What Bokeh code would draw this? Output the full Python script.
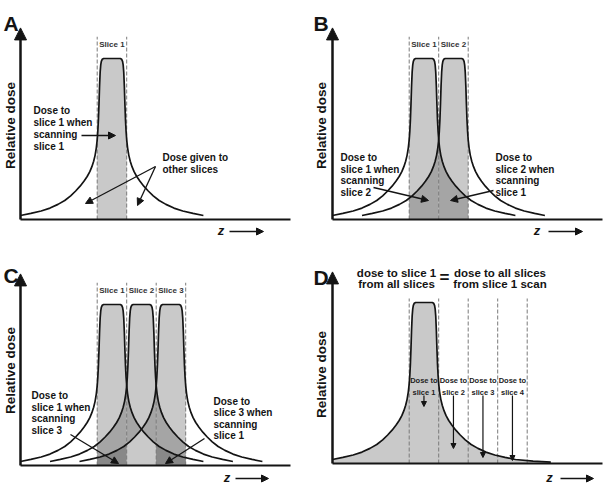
import numpy as np
from bokeh.plotting import figure
from bokeh.layouts import column, row
from bokeh.models import Range1d, Arrow, NormalHead
from bokeh.core.properties import value
from bokeh.embed import file_html
from bokeh.resources import INLINE

# Dose profile of one scanned slice, right half (offset from slice centre in
# slice widths -> relative dose); the left half is its mirror image.
profile_offset = [0.00, 0.28, 0.33, 0.36, 0.38, 0.40, 0.42, 0.44, 0.46, 0.48,
                  0.50, 0.53, 0.57, 0.62, 0.68, 0.75, 0.84, 0.95, 1.08, 1.23,
                  1.40, 1.60, 1.83, 2.10, 2.40, 2.75, 3.10]
profile_dose = [1.000, 1.000, 0.995, 0.982, 0.960, 0.915, 0.830, 0.715, 0.615, 0.545,
                0.495, 0.445, 0.400, 0.362, 0.328, 0.297, 0.267, 0.237, 0.207, 0.177,
                0.147, 0.118, 0.094, 0.071, 0.053, 0.038, 0.025]
# longer right-hand tail of the single profile in panel D
tail_offset = [3.70, 4.30]
tail_dose = [0.015, 0.009]

slice_labels = ["Slice 1", "Slice 2", "Slice 3"]
d_slice_labels = ["slice 1", "slice 2", "slice 3", "slice 4"]

INK = "#141414"
LIGHT = "#c9c9c9"
MED = "#a5a5a5"
DARK = "#888888"
DASH = "#7a7a7a"
FONT = value("Liberation Sans")

SX = 29.5   # pixels per slice width
SY = 161.0  # pixels per unit of relative dose

off = np.array(profile_offset)
dose = np.array(profile_dose)
full_x = np.concatenate([-off[::-1], off[1:]])
full_y = np.concatenate([dose[::-1], dose[1:]])
AXIS_Z = -profile_offset[-1]


def curve_at(c, xs):
    return np.interp(xs, full_x + c, full_y, left=0.0, right=0.0)


def make_panel(W, H, ax, base):
    x0 = AXIS_Z - ax / SX
    y1 = base / SY
    p = figure(width=W, height=H, x_range=Range1d(x0, x0 + W / SX),
               y_range=Range1d(y1 - H / SY, y1), output_backend="svg",
               toolbar_location=None, min_border=0, outline_line_color=None)
    p.axis.visible = False
    p.grid.visible = False
    X = lambda px: x0 + px / SX
    Y = lambda py: y1 - py / SY
    return p, X, Y


def arrow(p, xs, ys, xe, ye, size=7, width=1.3):
    p.add_layout(Arrow(end=NormalHead(size=size, fill_color=INK, line_color=INK, line_width=1),
                       x_start=xs, y_start=ys, x_end=xe, y_end=ye,
                       line_width=width, line_color=INK))


def text(p, xs, ys, labels, size="10px", align="left", baseline="middle",
         color=INK, style="bold", angle=0.0):
    p.text(x=xs, y=ys, text=labels, text_font=FONT, text_font_size=size,
           text_font_style=style, text_align=align, text_baseline=baseline,
           text_color=color, angle=angle)


def frame(p, X, Y, letter, letter_px, rel_px, x_end_px, z_px, z_arrow_px):
    # axes: y axis with arrow head, plain x axis
    p.segment(x0=[AXIS_Z], y0=[0], x1=[X(x_end_px)], y1=[0], line_width=2.2, line_color=INK)
    arrow(p, AXIS_Z, 0, AXIS_Z, 1.19, size=12, width=2.5)
    text(p, [X(letter_px[0])], [Y(letter_px[1])], [letter], size="21px", baseline="alphabetic")
    text(p, [X(rel_px[0])], [Y(rel_px[1])], ["Relative dose"], size="13.5px",
         align="center", angle=np.pi / 2)
    text(p, [X(z_px[0])], [Y(z_px[1])], ["z"], size="13px", align="center",
         style="bold italic")
    arrow(p, X(z_arrow_px[0]), Y(z_px[1] + 1), X(z_arrow_px[1]), Y(z_px[1] + 1), size=7, width=1.5)


def fill_slices(p, centres):
    for k in centres:
        xs = np.linspace(k - 0.5, k + 0.5, 241)
        p.varea(x=xs, y1=np.zeros_like(xs), y2=curve_at(k, xs), fill_color=LIGHT)
        for dist, colour in ((1, MED), (2, DARK)):
            others = [c for c in centres if abs(c - k) == dist]
            if not others:
                continue
            vals = np.array([curve_at(c, xs) for c in others])
            lo = vals.min(axis=0) if len(others) > 1 else np.zeros_like(xs)
            p.varea(x=xs, y1=lo, y2=vals.max(axis=0), fill_color=colour)


def slices_with_labels(p, Y, n):
    centres = list(range(n))
    fill_slices(p, centres)
    bounds = [c - 0.5 for c in centres] + [centres[-1] + 0.5]
    p.segment(x0=bounds, y0=[0] * len(bounds), x1=bounds, y1=[1.135] * len(bounds),
              line_dash="4 2", line_color=DASH, line_width=1)
    for c in centres:
        p.line(full_x + c, full_y, line_width=1.7, line_color=INK, line_join="round")
    text(p, centres, [1.09] * n, slice_labels[:n], size="8px", align="center", color="#333333")


def block(p, X, Y, left_px, top_px, step, lines):
    text(p, [X(left_px)] * len(lines), [Y(top_px + i * step) for i in range(len(lines))], lines)


# ---- A: one slice
pA, X, Y = make_panel(300, 240, 20, 219)
slices_with_labels(pA, Y, 1)
frame(pA, X, Y, "A", (3, 23), (9.5, 125), 290, (220.5, 230), (229, 263))
block(pA, X, Y, 33, 110, 12, ["Dose to", "slice 1 when", "scanning", "slice 1"])
arrow(pA, X(81), Y(135), X(115), Y(135))
block(pA, X, Y, 162, 157, 11.5, ["Dose given to", "other slices"])
arrow(pA, X(155), Y(166), X(85), Y(203))
arrow(pA, X(155), Y(166), X(137), Y(205))

# ---- B: two adjacent slices
pB, X, Y = make_panel(309, 240, 32, 219)
slices_with_labels(pB, Y, 2)
frame(pB, X, Y, "B", (13, 23), (21, 125), 302, (236.5, 230), (248, 282))
block(pB, X, Y, 40, 157, 11.7, ["Dose to", "slice 1 when", "scanning", "slice 2"])
arrow(pB, X(73), Y(187), X(128), Y(200))
block(pB, X, Y, 195, 157, 11.7, ["Dose to", "slice 2 when", "scanning", "slice 1"])
arrow(pB, X(193), Y(190), X(150), Y(200))

# ---- C: three adjacent slices
pC, X, Y = make_panel(300, 248, 20, 225)
slices_with_labels(pC, Y, 3)
frame(pC, X, Y, "C", (3, 35), (9.5, 130), 290, (226.5, 237), (235, 268))
block(pC, X, Y, 31, 155, 11.7, ["Dose to", "slice 1 when", "scanning", "slice 3"])
arrow(pC, X(70), Y(194), X(118), Y(223))
block(pC, X, Y, 213, 161, 11.3, ["Dose to", "slice 3 when", "scanning", "slice 1"])
arrow(pC, X(204), Y(198), X(165), Y(223))

# ---- D: profile of slice 1 over its neighbours
pD, X, Y = make_panel(309, 248, 32, 223)
dx = np.concatenate([full_x, tail_offset])
dy = np.concatenate([full_y, tail_dose])
pD.varea(x=dx, y1=np.zeros_like(dx), y2=dy, fill_color=LIGHT)
d_bounds = [c - 0.5 for c in range(len(d_slice_labels))] + [len(d_slice_labels) - 0.5]
pD.segment(x0=d_bounds, y0=[0] * len(d_bounds), x1=d_bounds, y1=[Y(58)] * len(d_bounds),
           line_dash="4 2", line_color=DASH, line_width=1)
pD.line(dx, dy, line_width=1.7, line_color=INK, line_join="round")
frame(pD, X, Y, "D", (13, 37), (21, 134), 302, (249, 237), (260, 293))
text(pD, [X(96), X(96)], [Y(32), Y(43.5)], ["dose to slice 1", "from all slices"],
     size="11.5px", align="center")
text(pD, [X(144)], [Y(37)], ["="], size="17px", align="center")
text(pD, [X(199.5), X(199.5)], [Y(32), Y(43.5)], ["dose to all slices", "from slice 1 scan"],
     size="11.5px", align="center")
centres_d = list(range(len(d_slice_labels)))
text(pD, centres_d, [Y(140)] * 4, ["Dose to"] * 4, size="7.5px", align="center", color="#222222")
text(pD, centres_d, [Y(152)] * 4, d_slice_labels, size="7.5px", align="center", color="#222222")
for c, tip in zip(centres_d, [166, 208, 217, 220]):
    arrow(pD, c, Y(155), c, Y(tip), size=5, width=1.2)

layout = column(row(pA, pB), row(pC, pD))
open("out.html", "w").write(file_html(layout, INLINE))
